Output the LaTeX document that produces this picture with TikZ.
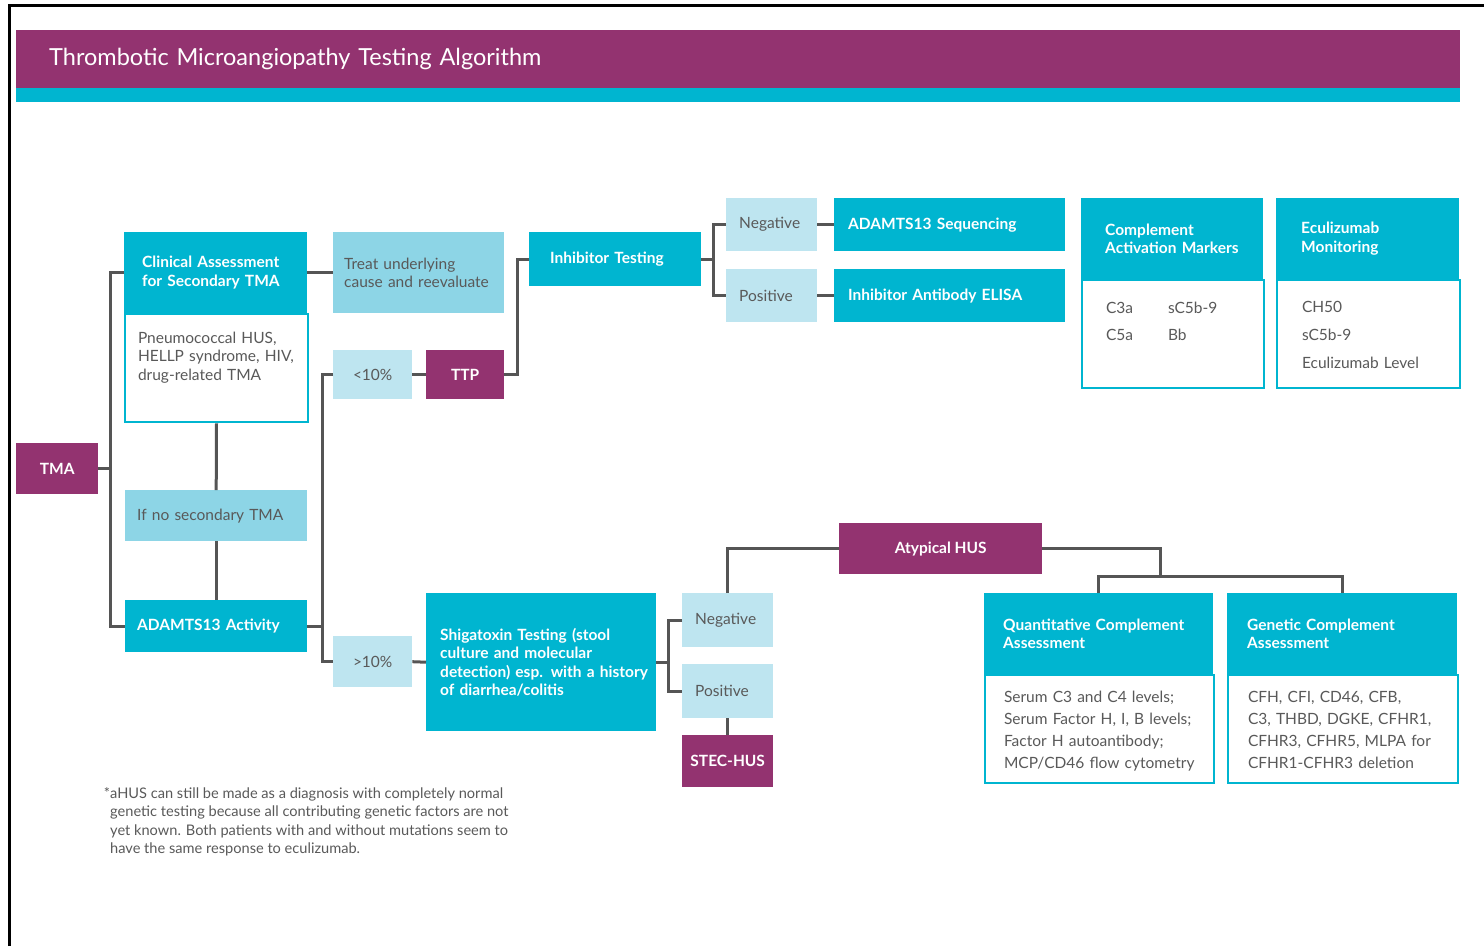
\documentclass[tikz,border=0pt]{standalone}
\usepackage{fontspec}
\setmainfont{Lato}
\definecolor{tmapurple}{RGB}{147,51,112}
\definecolor{tmacyan}{RGB}{0,181,208}
\definecolor{tmalight}{RGB}{141,213,230}
\definecolor{tmapale}{RGB}{190,229,240}
\definecolor{tmaline}{RGB}{85,85,85}
\definecolor{tmatext}{RGB}{89,89,89}
\newcommand{\boxfont}{\fontsize{15.5}{18.5}\selectfont}
\tikzset{
    tmabox/.style={anchor=north west, inner ysep=0pt, align=left},
    purplebox/.style={tmabox, fill=tmapurple, text=white, font=\boxfont\bfseries, align=center, inner xsep=0pt},
    cyanbox/.style={tmabox, fill=tmacyan, text=white, font=\boxfont\bfseries},
    lightbox/.style={tmabox, fill=tmalight, text=tmatext, font=\boxfont},
    palebox/.style={tmabox, fill=tmapale, text=tmatext, font=\boxfont},
    bodybox/.style={tmabox, fill=white, draw=tmacyan, line width=2pt, text=tmatext},
    link/.style={draw=tmaline, line width=3pt},
}

\begin{document}
\begin{tikzpicture}[x=1pt, y=-1pt]
    \useasboundingbox (0,0) rectangle (1484,946);
    % Frame and title bar.
    \draw[line width=3pt] (9,946) -- (9,5) -- (1484,5);
    \node[tmabox, fill=tmapurple, text=white, font=\fontsize{23.5}{28}\selectfont,
        inner xsep=33pt, text width=1378pt, minimum height=58pt] (title) at (16,30)
        {Thrombotic Microangiopathy Testing Algorithm};
    \fill[tmacyan] (title.south west) rectangle (title.south east |- 0,102);

    % First column.
    \node[purplebox, minimum width=82pt, minimum height=51pt] (tma) at (16,443) {TMA};
    \node[cyanbox, inner xsep=18pt, text width=147pt, minimum height=81pt] (clin) at (124,232)
        {Clinical Assessment\\for Secondary TMA};
    \node[bodybox, font=\boxfont, inner xsep=13pt, text width=157pt, inner ysep=18pt,
        text height=11pt, text depth=61pt] (clinbody) at (clin.south west)
        {Pneumococcal HUS,\\HELLP syndrome, HIV,\\drug-related TMA};
    \node[lightbox, inner xsep=12pt, text width=158pt, minimum height=51pt] (ifno) at (125,490)
        {If no secondary TMA};
    \node[cyanbox, inner xsep=12pt, text width=158pt, minimum height=52pt] (activity) at (125,600)
        {ADAMTS13 Activity};

    % ADAMTS13 result branches.
    \node[lightbox, inner xsep=11pt, text width=149pt, minimum height=81pt] (treat) at (333,232)
        {Treat underlying\\cause and reevaluate};
    \node[palebox, align=center, inner xsep=0pt, minimum width=79pt, minimum height=49pt] (low) at (333,350) {<10\%};
    \node[purplebox, minimum width=78pt, minimum height=49pt] (ttp) at (426,350) {TTP};
    \node[palebox, align=center, inner xsep=0pt, minimum width=79pt, minimum height=51pt] (high) at (333,636) {>10\%};

    % TTP work-up.
    \node[cyanbox, inner xsep=21pt, text width=130pt, minimum height=54pt] (inhib) at (529,232) {Inhibitor Testing};
    \node[palebox, inner xsep=13pt, text width=65pt, minimum height=53pt] (negttp) at (726,198) {Negative};
    \node[palebox, inner xsep=13pt, text width=65pt, minimum height=53pt] (posttp) at (726,269) {Positive};
    \node[cyanbox, inner xsep=14pt, text width=203pt, minimum height=53pt] (seq) at (834,198) {ADAMTS13 Sequencing};
    \node[cyanbox, inner xsep=14pt, text width=203pt, minimum height=53pt] (elisa) at (834,269) {Inhibitor Antibody ELISA};

    % Complement panels, top right.
    \node[cyanbox, inner xsep=24pt, text width=134pt, minimum height=81pt] (markers) at (1081,198)
        {Complement\\Activation Markers};
    \node[bodybox, font=\fontsize{15.5}{27}\selectfont, inner xsep=24pt, text width=134pt, inner ysep=18pt,
        text height=15pt, text depth=57pt] (markersbody) at (markers.south west)
        {\makebox[62pt][l]{C3a}sC5b-9\\\makebox[62pt][l]{C5a}Bb};
    \node[cyanbox, inner xsep=25pt, text width=133pt, minimum height=81pt] (monitor) at (1276,198)
        {Eculizumab\\Monitoring};
    \node[bodybox, font=\fontsize{15.5}{28}\selectfont, inner xsep=25pt, text width=133pt, inner ysep=18pt,
        text height=14pt, text depth=58pt] (monitorbody) at (monitor.south west)
        {CH50\\sC5b-9\\Eculizumab Level};

    % HUS work-up.
    \node[cyanbox, inner xsep=14pt, text width=202pt, minimum height=138pt] (shiga) at (426,593)
        {\mbox{Shigatoxin Testing (stool}\\\mbox{culture and molecular}\\\mbox{detection) esp. with a history}\\\mbox{of diarrhea/colitis}};
    \node[palebox, inner xsep=13pt, text width=65pt, minimum height=54pt] (neghus) at (682,593) {Negative};
    \node[palebox, inner xsep=13pt, text width=65pt, minimum height=54pt] (poshus) at (682,664) {Positive};
    \node[purplebox, minimum width=91pt, minimum height=52pt] (stec) at (682,735) {STEC-HUS};
    \node[purplebox, minimum width=203pt, minimum height=51pt] (ahus) at (839,523) {Atypical HUS};

    % Complement assessment, bottom right.
    \node[cyanbox, inner xsep=19pt, text width=191pt, minimum height=81pt] (quant) at (984,593)
        {Quantitative Complement\\Assessment};
    \node[bodybox, font=\fontsize{15.5}{22}\selectfont, inner xsep=19pt, text width=191pt, inner ysep=14pt,
        text height=13pt, text depth=67pt] (quantbody) at (quant.south west)
        {Serum C3 and C4 levels;\\Serum Factor H, I, B levels;\\Factor H autoantibody;\\MCP/CD46 flow cytometry};
    \node[cyanbox, inner xsep=20pt, text width=190pt, minimum height=81pt] (genetic) at (1227,593)
        {Genetic Complement\\Assessment};
    \node[bodybox, font=\fontsize{15.5}{22}\selectfont, inner xsep=20pt, text width=190pt, inner ysep=14pt,
        text height=13pt, text depth=67pt] (geneticbody) at (genetic.south west)
        {CFH, CFI, CD46, CFB,\\C3, THBD, DGKE, CFHR1,\\CFHR3, CFHR5, MLPA for\\CFHR1-CFHR3 deletion};

    % Footnote.
    \node[anchor=north west, inner sep=0pt, align=left, text=tmatext, font=\fontsize{14.6}{18.5}\selectfont] (note) at (110,787)
        {\llap{*}aHUS can still be made as a diagnosis with completely normal\\
        genetic testing because all contributing genetic factors are not\\
        yet known. Both patients with and without mutations seem to\\
        have the same response to eculizumab.};

    % Connectors.
    \begin{scope}
        \coordinate (tmafork) at (110,0);
        \coordinate (actfork) at (322,0);
        \coordinate (ttpfork) at (517,0);
        \coordinate (inhfork) at (713,0);
        \coordinate (shgfork) at (668,0);
        \coordinate (ahusbar) at (1160,576);
        \draw[link] (tma.east) -- (tma.east -| tmafork);
        \draw[link] (clin.west) -- (clin.west -| tmafork) -- (activity.west -| tmafork) -- (activity.west);
        \draw[link] (clin.east) -- (treat.west);
        \draw[link] (clinbody.south) -- (ifno.north);
        \draw[link] (ifno.south) -- (activity.north);
        \draw[link] (activity.east) -- (activity.east -| actfork);
        \draw[link] (low.west) -- (low.west -| actfork) -- (high.west -| actfork) -- (high.west);
        \draw[link] (low.east) -- (ttp.west);
        \draw[link] (ttp.east) -- (ttp.east -| ttpfork) |- (inhib.west);
        \draw[link] (inhib.east) -- (inhib.east -| inhfork);
        \draw[link] (negttp.west) -- (negttp.west -| inhfork) -- (posttp.west -| inhfork) -- (posttp.west);
        \draw[link] (negttp.east) -- (seq.west);
        \draw[link] (posttp.east) -- (elisa.west);
        \draw[link] (high.east) -- (shiga.west);
        \draw[link] (shiga.east) -- (shiga.east -| shgfork);
        \draw[link] (neghus.west) -- (neghus.west -| shgfork) -- (poshus.west -| shgfork) -- (poshus.west);
        \draw[link] (poshus.south) -- (stec.north);
        \draw[link] (neghus.north) |- (ahus.west);
        \draw[link] (ahus.east) -| (ahusbar);
        \draw[link] (quant.north) |- (ahusbar) -| (genetic.north);
    \end{scope}
\end{tikzpicture}
\end{document}
